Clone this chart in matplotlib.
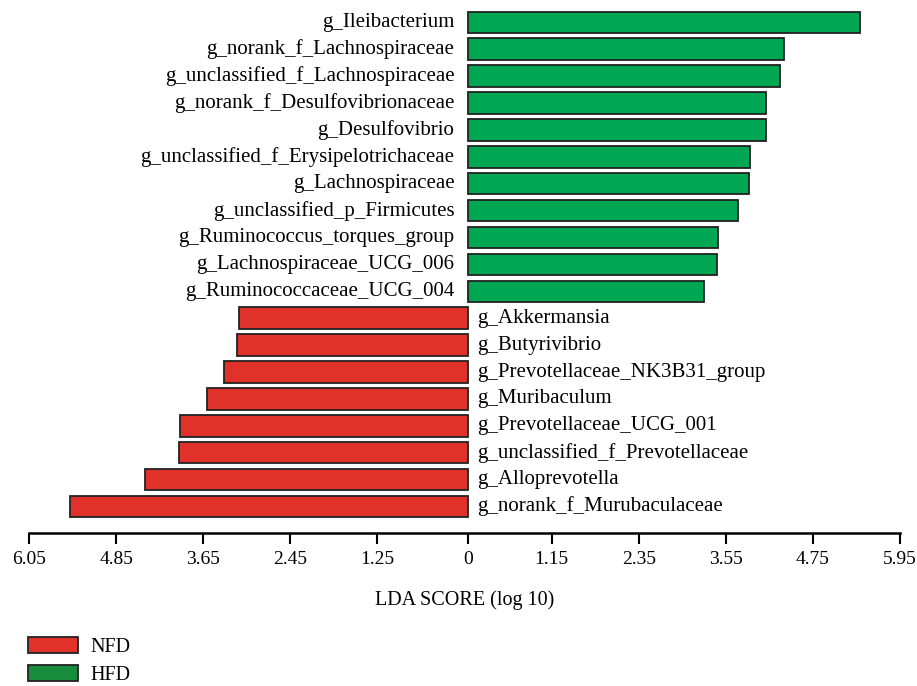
import matplotlib.pyplot as plt
from matplotlib.patches import Patch

RED = "#e0322a"
GREEN = "#00a651"
KEY_GREEN = "#168c3c"
EDGE = "#222222"

# LDA scores per genus (HFD enriched positive, NFD enriched drawn to the left)
hfd_taxa = [
    "g_Ileibacterium",
    "g_norank_f_Lachnospiraceae",
    "g_unclassified_f_Lachnospiraceae",
    "g_norank_f_Desulfovibrionaceae",
    "g_Desulfovibrio",
    "g_unclassified_f_Erysipelotrichaceae",
    "g_Lachnospiraceae",
    "g_unclassified_p_Firmicutes",
    "g_Ruminococcus_torques_group",
    "g_Lachnospiraceae_UCG_006",
    "g_Ruminococcaceae_UCG_004",
]
hfd_lda = [5.40, 4.35, 4.29, 4.11, 4.10, 3.88, 3.87, 3.72, 3.44, 3.43, 3.25]

nfd_taxa = [
    "g_Akkermansia",
    "g_Butyrivibrio",
    "g_Prevotellaceae_NK3B31_group",
    "g_Muribaculum",
    "g_Prevotellaceae_UCG_001",
    "g_unclassified_f_Prevotellaceae",
    "g_Alloprevotella",
    "g_norank_f_Murubaculaceae",
]
nfd_lda = [3.15, 3.19, 3.37, 3.60, 3.97, 3.99, 4.45, 5.49]

tick_values = [-6.05, -4.85, -3.65, -2.45, -1.25, 0, 1.15, 2.35, 3.55, 4.75, 5.95]
tick_labels = ["6.05", "4.85", "3.65", "2.45", "1.25", "0", "1.15", "2.35", "3.55", "4.75", "5.95"]

plt.rcParams["font.family"] = "Liberation Serif"

fig = plt.figure(figsize=(9.17, 6.86), dpi=100)
ax = fig.add_axes([29 / 917, 1 - 533 / 686, 871 / 917, 528 / 686])

n = len(hfd_taxa) + len(nfd_taxa)
rows = list(range(n - 1, -1, -1))
hfd_rows = rows[: len(hfd_taxa)]
nfd_rows = rows[len(hfd_taxa):]

ax.barh(hfd_rows, hfd_lda, height=0.8, color=GREEN, edgecolor=EDGE, linewidth=1.3)
ax.barh(nfd_rows, [-v for v in nfd_lda], height=0.8, color=RED, edgecolor=EDGE, linewidth=1.3)

for y, name in zip(hfd_rows, hfd_taxa):
    ax.text(-0.19, y, name, ha="right", va="center", fontsize=15)
for y, name in zip(nfd_rows, nfd_taxa):
    ax.text(0.12, y, name, ha="left", va="center", fontsize=15)

ax.set_xlim(-6.05, 5.95)
ax.set_ylim(-0.985, 18.645)
ax.set_yticks([])
ax.set_xticks(tick_values)
ax.set_xticklabels(tick_labels, fontsize=14)
ax.tick_params(axis="x", direction="out", length=8, width=1.5, pad=5)
for side in ("top", "left", "right"):
    ax.spines[side].set_visible(False)
ax.spines["bottom"].set_linewidth(1.8)
ax.set_xlabel("LDA SCORE (log 10)", fontsize=14.5, labelpad=16)

handles = [
    Patch(facecolor=RED, edgecolor=EDGE, linewidth=1.3, label="NFD"),
    Patch(facecolor=KEY_GREEN, edgecolor=EDGE, linewidth=1.3, label="HFD"),
]
fig.legend(
    handles=handles,
    loc="upper left",
    bbox_to_anchor=(10 / 917, 1 - 619 / 686),
    frameon=False,
    fontsize=14.5,
    handlelength=2.5,
    handleheight=0.85,
    handletextpad=0.6,
    labelspacing=0.4,
)

fig.savefig("out.png", dpi=100)
